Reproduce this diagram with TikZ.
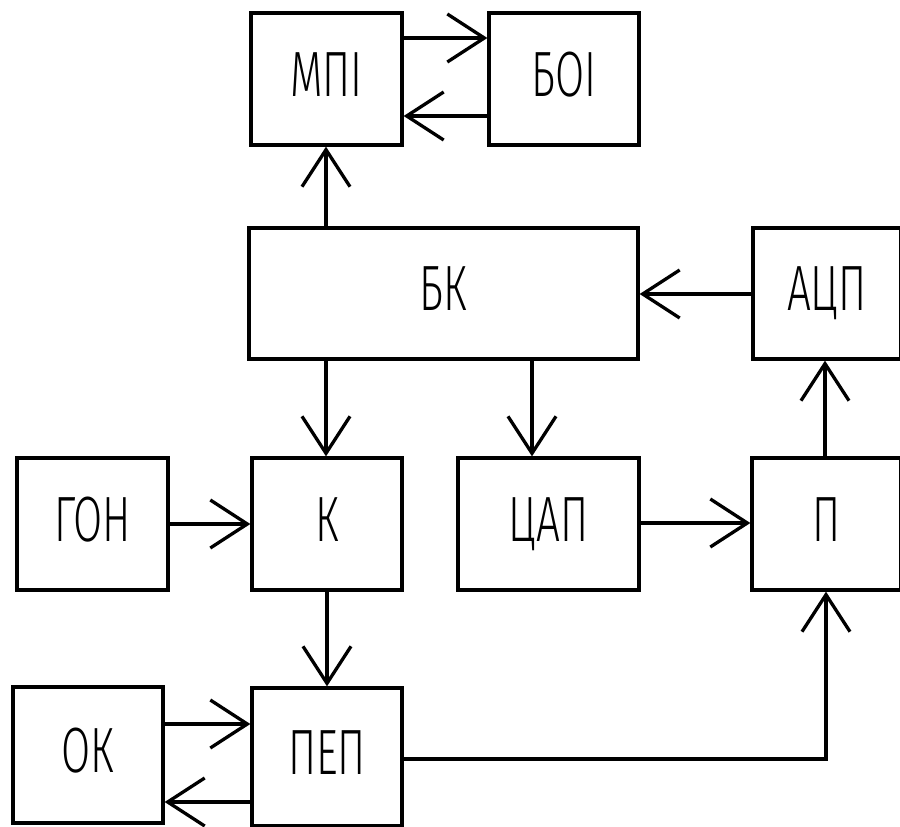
\documentclass[tikz,border=0pt]{standalone}
\usepackage{fontspec}
\setmainfont{Fira Sans}[UprightFont=* Light,FakeStretch=0.66]
\usetikzlibrary{arrows.meta}
\begin{document}
\begin{tikzpicture}[x=1pt,y=-1pt,line width=3.3pt,
  box/.style={draw,line width=3.3pt,inner sep=0pt,
    font=\fontsize{64}{64}\selectfont,text height=44pt,text depth=10pt},
  arr/.style={-{Straight Barb[length=37pt,width=48pt]}}]
\useasboundingbox (0,0) rectangle (900,827);
% boxes
\node[box,minimum width=151pt,minimum height=132pt] (mpi) at (326.5,79) {МПІ};
\node[box,minimum width=150pt,minimum height=132pt] (boi) at (564,79) {БОІ};
\node[box,minimum width=389pt,minimum height=131pt] (bk) at (443.5,293.5) {БК};
\node[box,minimum width=148pt,minimum height=131pt] (adc) at (827,293.5) {АЦП};
\node[box,minimum width=151pt,minimum height=132pt] (gon) at (92.5,524) {ГОН};
\node[box,minimum width=150pt,minimum height=132pt] (k) at (327,524) {К};
\node[box,minimum width=181pt,minimum height=132pt] (dac) at (548.5,524) {ЦАП};
\node[box,minimum width=149pt,minimum height=132pt] (p) at (826.5,524) {П};
\node[box,minimum width=150pt,minimum height=136pt] (ok) at (88,755) {ОК};
\node[box,minimum width=150pt,minimum height=138pt] (pep) at (327,757) {ПЕП};
\coordinate (corner) at (826,759);
% connectors
\draw[arr] (mpi.east |- 0,38) -- (boi.west |- 0,38);
\draw[arr] (boi.west |- 0,116) -- (mpi.east |- 0,116);
\draw[arr] (bk.north -| 326,0) -- (mpi.south -| 326,0);
\draw[arr] (adc.west |- 0,294) -- (bk.east |- 0,294);
\draw[arr] (bk.south -| 326,0) -- (k.north -| 326,0);
\draw[arr] (bk.south -| 532,0) -- (dac.north -| 532,0);
\draw[arr] (p.north -| 825,0) -- (adc.south -| 825,0);
\draw[arr] (gon.east |- 0,524) -- (k.west |- 0,524);
\draw[arr] (dac.east |- 0,523) -- (p.west |- 0,523);
\draw[arr] (k.south -| 327,0) -- (pep.north -| 327,0);
\draw[arr] (ok.east |- 0,724) -- (pep.west |- 0,724);
\draw[arr] (pep.west |- 0,802) -- (ok.east |- 0,802);
\draw[arr] (pep.east |- corner) -- (corner) -- (p.south -| corner);
\end{tikzpicture}
\end{document}
